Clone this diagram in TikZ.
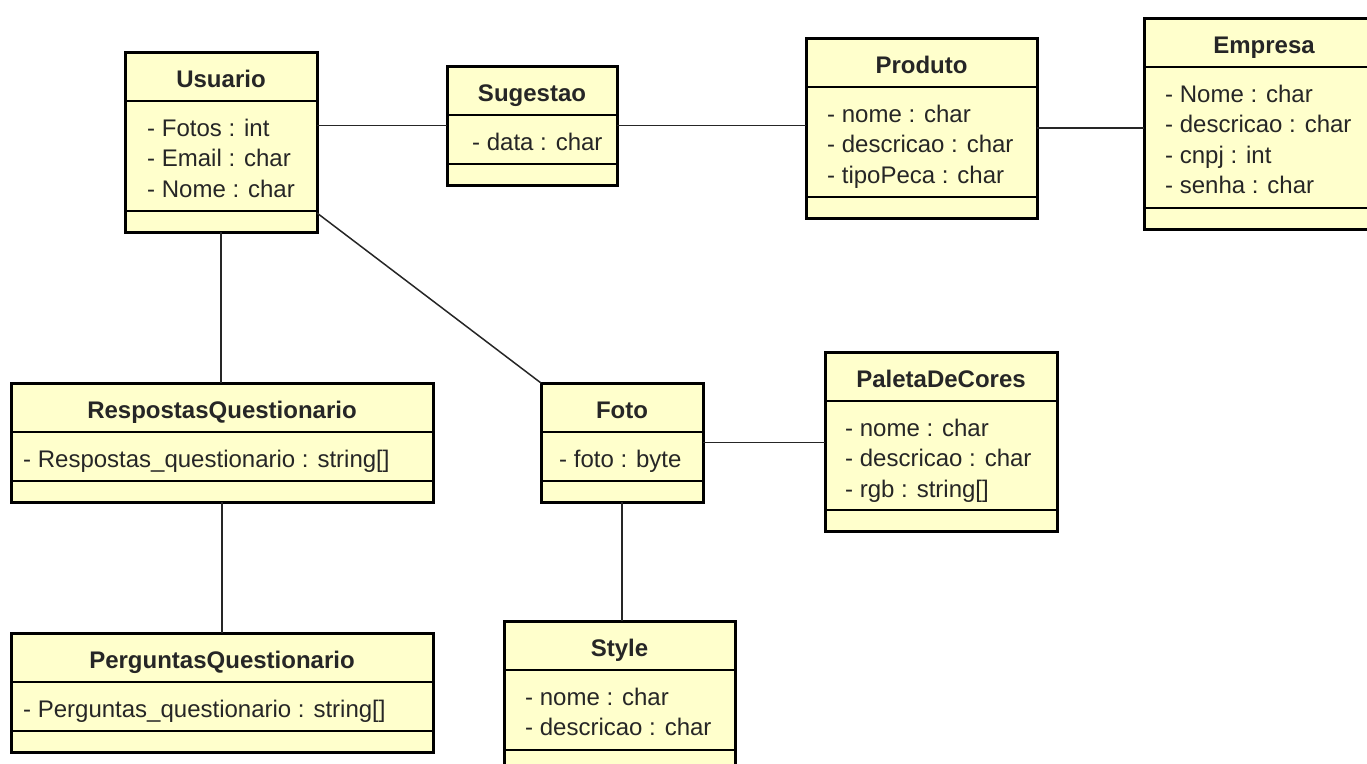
\documentclass[tikz,border=0pt]{standalone}
\usepackage{fontspec}
\setmainfont{Liberation Sans}
\usepackage{tikz}
\usetikzlibrary{positioning,calc}
\definecolor{classfill}{HTML}{FFFFCC}
\definecolor{inkgray}{HTML}{262626}
\tikzset{>=latex}

\begin{document}
\begin{tikzpicture}[x=1pt, y=-1pt,
    classbox/.style={draw=black, fill=classfill, line width=3pt, rectangle, outer sep=0pt, inner sep=0pt, anchor=north west},
    sepline/.style={draw=black, line width=1.5pt},
    titletext/.style={font=\fontsize{24}{30}\selectfont\bfseries, text=inkgray, inner sep=0pt, anchor=base},
    attrtext/.style={font=\fontsize{24}{30}\selectfont, text=inkgray, inner sep=0pt, anchor=base west},
    assoc/.style={draw=inkgray, line width=1.5pt}]
    \useasboundingbox (0,0) rectangle (1367,763);
    \clip (0,0) rectangle (1367,763);

    \foreach \n/\x/\y/\w/\h/\p/\t/\attrs in {
        usuario/125/52/192/180/22/Usuario/{- Fotos : int, - Email : char, - Nome : char},
        sugestao/447/66/170/119/25/Sugestao/{- data : char},
        produto/806/38/231/180/21/Produto/{- nome : char, - descricao : char, - tipoPeca : char},
        empresa/1144/18/240/211/21/Empresa/{- Nome : char, - descricao : char, - cnpj : int, - senha : char},
        respostas/11/383/422/119/12/RespostasQuestionario/{- Respostas\_questionario : string[]},
        foto/541/383/162/119/18/Foto/{- foto : byte},
        paleta/825/352/232/179/20/PaletaDeCores/{- nome : char, - descricao : char, - rgb : string[]},
        perguntas/11/633/422/119/12/PerguntasQuestionario/{- Perguntas\_questionario : string[]},
        style/504/621/231/150/21/Style/{- nome : char, - descricao : char}} {
        \node[classbox, minimum width=\w pt, minimum height=\h pt] (\n) at (\x,\y) {}; % class box
        \node[titletext] (\n-t) at ({\x+\w/2},{\y+35}) {\t}; % class name
        \draw[sepline] ([yshift=-49pt]\n.north west) -- ([yshift=-49pt]\n.north east);
        \draw[sepline] ([yshift=21pt]\n.south west) -- ([yshift=21pt]\n.south east);
        \foreach \a [count=\k] in \attrs
            \node[attrtext] (\n-a\k) at ({\x+\p},{\y+84+30.5*(\k-1)}) {\a}; % attributes
    }

    % associations
    \draw[assoc] (sugestao.west) -- (sugestao.west -| usuario.east);
    \draw[assoc] (sugestao.east) -- (sugestao.east -| produto.west);
    \draw[assoc] (produto.east) -- (produto.east -| empresa.west);
    \draw[assoc] (usuario.south) -- (usuario.south |- respostas.north);
    \draw[assoc] (respostas.south) -- (perguntas.north);
    \draw[assoc] ([yshift=19pt]usuario.south east) -- (foto.north west);
    \draw[assoc] (foto.east) -- (foto.east -| paleta.west);
    \draw[assoc] (foto.south) -- (foto.south |- style.north);
\end{tikzpicture}
\end{document}
